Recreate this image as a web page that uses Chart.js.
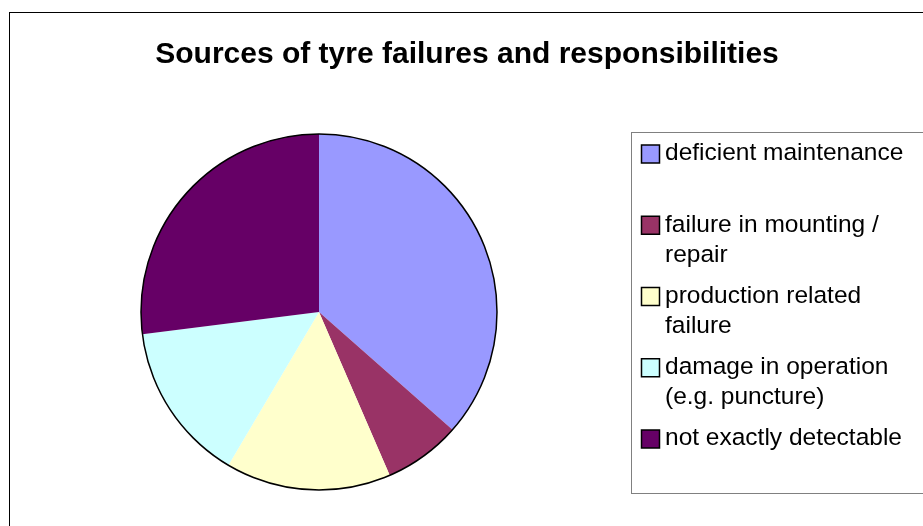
<!DOCTYPE html>
<html>
<head>
<meta charset="utf-8">
<script src="https://cdn.jsdelivr.net/npm/chart.js@4.4.0/dist/chart.umd.min.js"></script>
<style>
  html, body { margin: 0; padding: 0; background: #fff; }
  canvas { display: block; }
</style>
</head>
<body>
<canvas id="chart" width="923" height="526"></canvas>
<script>
const title = 'Sources of tyre failures and responsibilities';
const categories = [
  ['deficient maintenance'],
  ['failure in mounting /', 'repair'],
  ['production related', 'failure'],
  ['damage in operation', '(e.g. puncture)'],
  ['not exactly detectable']
];
const shares = [36.5, 7, 15, 14.5, 27];
const colors = ['#9999FF', '#993366', '#FFFFCC', '#CCFFFF', '#660066'];

const frame = {
  id: 'frame',
  beforeDraw(chart) {
    const ctx = chart.ctx;
    ctx.save();
    ctx.fillStyle = '#fff';
    ctx.fillRect(0, 0, chart.width, chart.height);
    ctx.strokeStyle = '#000';
    ctx.lineWidth = 1;
    ctx.strokeRect(9.5, 12.5, chart.width + 20, chart.height + 20);
    ctx.fillStyle = '#000';
    ctx.font = 'bold 30px "Liberation Sans", Arial, sans-serif';
    ctx.textAlign = 'center';
    ctx.textBaseline = 'alphabetic';
    ctx.fillText(title, 467, 63);
    ctx.restore();
  },
  afterDatasetsDraw(chart) {
    // black rim round the whole pie, none between the slices
    const arc = chart.getDatasetMeta(0).data[0];
    const ctx = chart.ctx;
    ctx.save();
    ctx.strokeStyle = '#000';
    ctx.lineWidth = 1.5;
    ctx.beginPath();
    ctx.arc(arc.x, arc.y, arc.outerRadius, 0, Math.PI * 2);
    ctx.stroke();
    ctx.restore();
  },
  afterDraw(chart) {
    const ctx = chart.ctx;
    const ds = chart.data.datasets[0];
    ctx.save();
    ctx.strokeStyle = '#808080';
    ctx.lineWidth = 1;
    ctx.strokeRect(631.5, 132.5, 400, 361);
    ctx.font = '24.5px "Liberation Sans", Arial, sans-serif';
    ctx.textBaseline = 'middle';
    ctx.textAlign = 'left';
    chart.data.labels.forEach((lines, i) => {
      const y = 153.5 + i * 71.25;
      ctx.fillStyle = ds.backgroundColor[i];
      ctx.fillRect(641.5, y - 8.5, 18, 18);
      ctx.strokeStyle = '#000';
      ctx.lineWidth = 1.5;
      ctx.strokeRect(641.5, y - 8.5, 18, 18);
      ctx.fillStyle = '#000';
      lines.forEach((t, j) => ctx.fillText(t, 665, y + j * 30));
    });
    ctx.restore();
  }
};

new Chart(document.getElementById('chart'), {
  type: 'pie',
  data: {
    labels: categories,
    datasets: [{
      data: shares,
      backgroundColor: colors,
      borderWidth: 0
    }]
  },
  options: {
    responsive: false,
    animation: false,
    layout: {
      padding: { left: 141, right: 426, top: 134, bottom: 36 }
    },
    plugins: {
      legend: { display: false },
      tooltip: { enabled: false }
    }
  },
  plugins: [frame]
});
</script>
</body>
</html>
